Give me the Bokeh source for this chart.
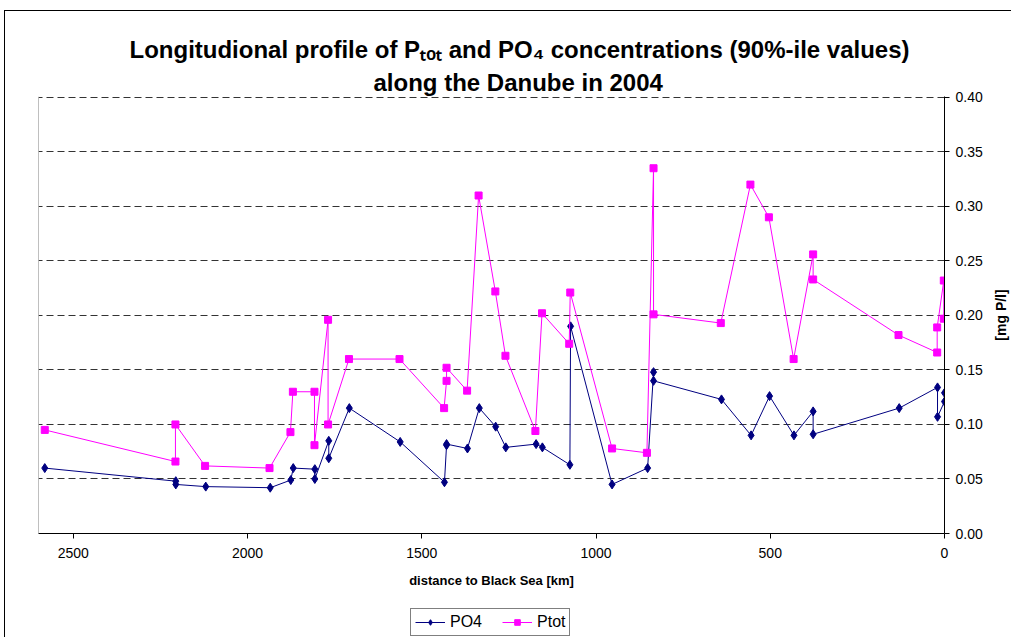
from math import pi
from bokeh.plotting import figure
from bokeh.layouts import column, row
from bokeh.models import (Range1d, FixedTicker, NumeralTickFormatter, Legend,
                          LegendItem, Span, Title, Label)
from bokeh.embed import file_html
from bokeh.resources import INLINE

# ---------------- data ----------------
po4_km = [2582, 2206, 2206, 2120, 1935, 1876, 1869, 1807, 1807, 1767, 1767, 1708,
          1562, 1435, 1429, 1429, 1369, 1335, 1288, 1259, 1172, 1154, 1075, 1073,
          954, 852, 835, 835, 640, 555, 502, 432, 377, 377, 130, 20, 20, 0, 0]
po4 = [0.060, 0.048, 0.045, 0.043, 0.042, 0.049, 0.060, 0.059, 0.050, 0.085, 0.069, 0.115,
       0.084, 0.047, 0.081, 0.082, 0.078, 0.115, 0.098, 0.079, 0.082, 0.079, 0.063, 0.190,
       0.045, 0.060, 0.148, 0.140, 0.123, 0.090, 0.126, 0.090, 0.112, 0.091, 0.115, 0.134,
       0.107, 0.121, 0.129]

ptot_km = [2582, 2207, 2207, 2122, 1937, 1877, 1870, 1808, 1808, 1769, 1769, 1709,
           1564, 1436, 1429, 1429, 1370, 1337, 1289, 1260, 1174, 1155, 1077, 1074,
           954, 854, 835, 835, 642, 557, 504, 433, 377, 377, 132, 21, 21, 2, 2]
ptot = [0.095, 0.066, 0.100, 0.062, 0.060, 0.093, 0.130, 0.130, 0.081, 0.196, 0.100, 0.160,
        0.160, 0.115, 0.140, 0.152, 0.131, 0.310, 0.222, 0.163, 0.094, 0.202, 0.174, 0.221,
        0.078, 0.074, 0.335, 0.201, 0.193, 0.320, 0.290, 0.160, 0.256, 0.233, 0.182, 0.166,
        0.189, 0.232, 0.197]

x_ticks = [0, 500, 1000, 1500, 2000, 2500]
y_ticks = [0.0, 0.05, 0.10, 0.15, 0.20, 0.25, 0.30, 0.35, 0.40]
series_names = ["PO4", "Ptot"]
title_line1 = "Longitudional profile of P\u209c\u2092\u209c and PO\u2084 concentrations (90%-ile values)"
title_line2 = "along the Danube in 2004"
x_label = "distance to Black Sea [km]"
y_label = "[mg P/l]"

# ---------------- layout ----------------
W, H, HL = 1011, 600, 37           # total width, main height, legend strip height
WR = 20                            # strip at the right holding the y-axis title
WM = W - WR                        # main figure width
FL, FR, FT, FB = 38, 944, 96, 533  # frame edges in canvas px
FONT = "Liberation Sans"
PO4_COLOR, PTOT_COLOR = "#000080", "#FF00FF"

x_range = Range1d(2600, 0)
y_range = Range1d(0.0, 0.4008)   # tiny headroom so the 0.40 grid line is not clipped
p = figure(width=WM, height=H, output_backend="svg", toolbar_location=None,
           x_range=x_range, y_range=y_range,
           y_axis_location="right",
           min_border_left=FL, min_border_right=WM - FR,
           min_border_top=FT, min_border_bottom=H - FB)
p.outline_line_color = None
p.background_fill_color = "white"
p.border_fill_alpha = 0.0
# chart-area border (left and top edges), drawn by the host element
p.styles = {"box-shadow": "inset 4px 10px 0 0 white, inset 5px 11px 0 0 black",
            "background-color": "white"}

p.xgrid.visible = False
p.ygrid.grid_line_color = "#333333"
p.ygrid.grid_line_dash = "7 4"
p.ygrid.grid_line_width = 1

# x axis
xa = p.xaxis[0]
xa.ticker = FixedTicker(ticks=x_ticks)
xa.major_tick_out = 5
xa.major_tick_in = 0
xa.minor_tick_line_color = None
xa.axis_line_color = "black"
xa.major_label_text_font = FONT
xa.major_label_text_font_size = "14px"
xa.major_label_text_color = "black"
xa.major_label_standoff = 9
xa.axis_label = x_label
xa.axis_label_text_font = FONT
xa.axis_label_text_font_style = "bold"
xa.axis_label_text_font_size = "13px"
xa.axis_label_text_color = "black"
xa.axis_label_standoff = 12

# y axis (right)
ya = p.yaxis[0]
ya.ticker = FixedTicker(ticks=y_ticks)
ya.formatter = NumeralTickFormatter(format="0.00")
ya.major_tick_out = 5
ya.major_tick_in = 0
ya.minor_tick_line_color = None
ya.axis_line_color = "black"
ya.major_label_text_font = FONT
ya.major_label_text_font_size = "14px"
ya.major_label_text_color = "black"
ya.major_label_standoff = 6

# left plot-area border
p.add_layout(Span(location=2600, dimension="height", line_color="#808080", line_width=1))

# series
p.line(po4_km, po4, line_color=PO4_COLOR, line_width=1)
p.scatter(po4_km, po4, marker="diamond", size=9,
          fill_color=PO4_COLOR, line_color=PO4_COLOR)
p.line(ptot_km, ptot, line_color=PTOT_COLOR, line_width=1)
p.scatter(ptot_km, ptot, marker="square", size=7,
          fill_color=PTOT_COLOR, line_color=PTOT_COLOR)

# title: two lines (the one added first is nearest to the plot)
p.add_layout(Title(text=title_line2, align="left", offset=335, standoff=2,
                   text_font=FONT, text_font_style="bold", text_font_size="24px",
                   text_color="black"), "above")
p.add_layout(Title(text=title_line1, align="left", offset=91, standoff=6,
                   text_font=FONT, text_font_style="bold", text_font_size="24px",
                   text_color="black"), "above")

# ---------------- right strip with the y-axis title ----------------
pr = figure(width=WR, height=H, output_backend="svg", toolbar_location=None,
            x_range=Range1d(0, 1), y_range=Range1d(0.0, 0.40),
            x_axis_type=None, y_axis_type=None,
            min_border_left=0, min_border_right=0,
            min_border_top=FT, min_border_bottom=H - FB)
pr.outline_line_color = None
pr.grid.visible = False
pr.background_fill_alpha = 0.0
pr.border_fill_alpha = 0.0
pr.styles = {"box-shadow": "inset 0 10px 0 0 white, inset 0 11px 0 0 black",
             "background-color": "white"}
pr.add_layout(Label(x=0.45, y=0.20, text=y_label, angle=pi / 2,
                    text_align="center", text_baseline="middle",
                    text_font=FONT, text_font_style="bold", text_font_size="14px",
                    text_color="black"))

# ---------------- legend strip below the chart ----------------
# (series drawn again here outside the visible y-range, only to key the legend)
pl = figure(width=W, height=HL, output_backend="svg", toolbar_location=None,
            x_range=x_range, y_range=Range1d(1.0, 2.0),
            x_axis_type=None, y_axis_type=None,
            min_border_left=FL, min_border_right=W - FR,
            min_border_top=0, min_border_bottom=0)
pl.outline_line_color = None
pl.grid.visible = False
pl.background_fill_alpha = 0.0
pl.border_fill_alpha = 0.0
pl.styles = {"box-shadow": "inset 4px 0 0 0 white, inset 5px 0 0 0 black",
             "background-color": "white"}

k1 = pl.line(po4_km, po4, line_color=PO4_COLOR, line_width=1)
k1m = pl.scatter(po4_km, po4, marker="diamond", size=9,
                 fill_color=PO4_COLOR, line_color=PO4_COLOR)
k2 = pl.line(ptot_km, ptot, line_color=PTOT_COLOR, line_width=1)
k2m = pl.scatter(ptot_km, ptot, marker="square", size=7,
                 fill_color=PTOT_COLOR, line_color=PTOT_COLOR)

legend = Legend(items=[LegendItem(label=series_names[0], renderers=[k1, k1m]),
                       LegendItem(label=series_names[1], renderers=[k2, k2m])],
                orientation="horizontal", location=(410 - FL, 1),
                border_line_color="black", border_line_width=1,
                background_fill_color="white", background_fill_alpha=1,
                label_text_font=FONT, label_text_font_size="16px",
                label_text_color="black",
                glyph_width=30, glyph_height=14, label_standoff=5,
                spacing=20, padding=4, margin=0)
pl.add_layout(legend)

layout = column(row(p, pr, spacing=0), pl, spacing=0)
open("out.html", "w").write(file_html(layout, INLINE))
